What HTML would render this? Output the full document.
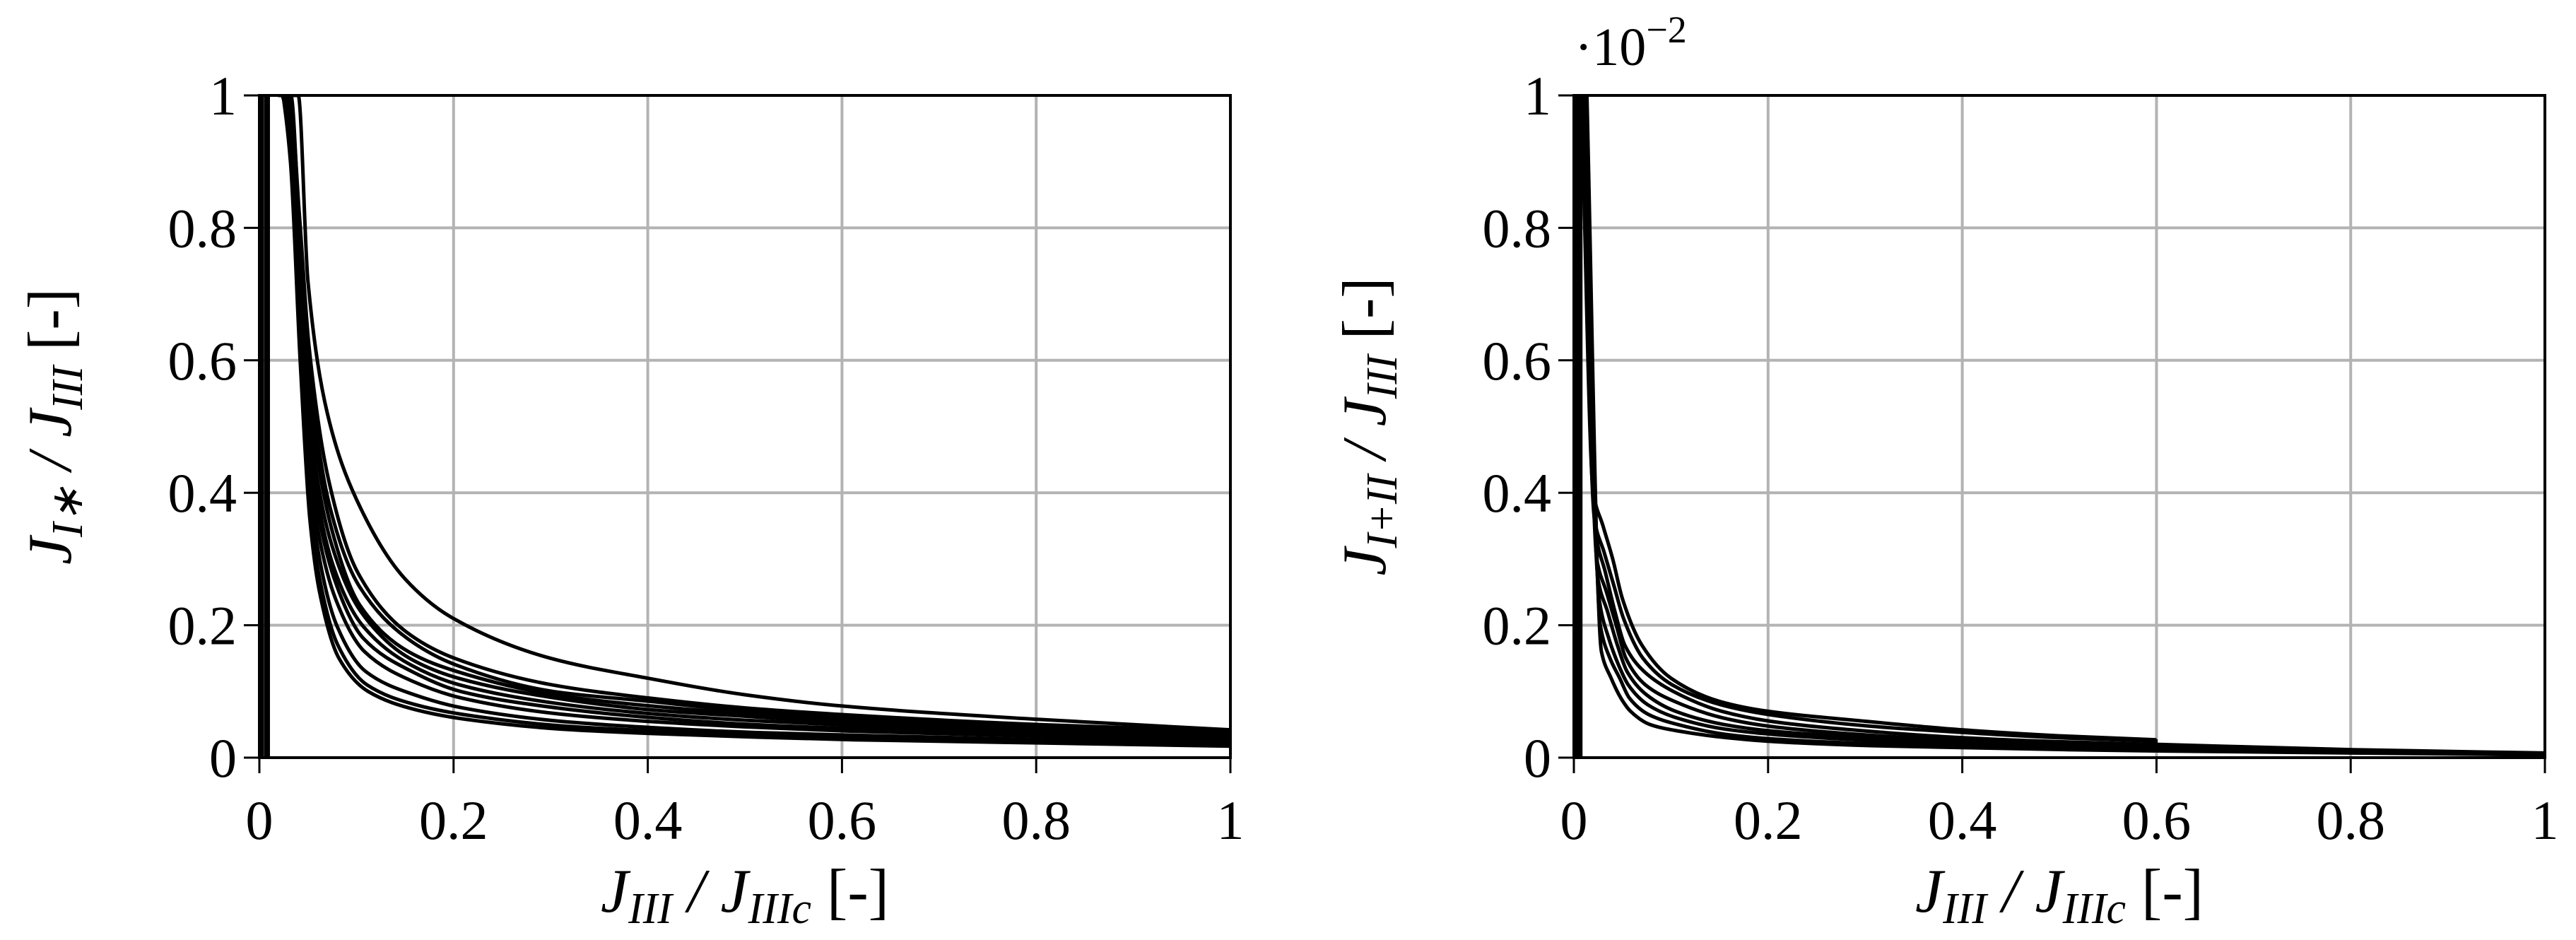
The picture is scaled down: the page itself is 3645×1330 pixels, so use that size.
<!DOCTYPE html>
<html><head><meta charset="utf-8"><style>
html,body{margin:0;padding:0;background:#fff}
svg{display:block}
text{font-family:"Liberation Serif",serif;fill:#000}
</style></head><body>
<svg id="fig" width="3645" height="1330" viewBox="0 0 3645 1330" xmlns="http://www.w3.org/2000/svg"></svg>
<script>
// shared x grid for curves
const xGrid=[0.02,0.03,0.04,0.05,0.07,0.1,0.15,0.2,0.3,0.4,0.5,0.6,0.8,1.0];
const xTicks=[0,0.2,0.4,0.6,0.8,1];
const xTickLabels=["0","0.2","0.4","0.6","0.8","1"];
const yTicks=[0,0.2,0.4,0.6,0.8,1];
const yTickLabels=["0","0.2","0.4","0.6","0.8","1"];
// left chart series (J_I* / J_III)
const leftSeries=[
 [1.0,1.0,1.0,0.72,0.52,0.39,0.27,0.21,0.15,0.12,0.095,0.078,0.058,0.042],
 [1.0,1.0,0.82,0.62,0.42,0.28,0.19,0.15,0.11,0.09,0.075,0.065,0.05,0.04],
 [1.0,1.0,0.76,0.57,0.38,0.26,0.18,0.14,0.1,0.085,0.07,0.06,0.048,0.038],
 [1.0,0.95,0.7,0.52,0.35,0.23,0.16,0.13,0.095,0.078,0.066,0.057,0.045,0.036],
 [1.0,0.9,0.65,0.47,0.32,0.22,0.15,0.12,0.09,0.072,0.062,0.053,0.042,0.034],
 [1.0,0.85,0.6,0.43,0.29,0.2,0.14,0.11,0.082,0.066,0.056,0.049,0.039,0.032],
 [1.0,0.8,0.55,0.4,0.27,0.18,0.13,0.1,0.075,0.06,0.05,0.044,0.035,0.029],
 [1.0,0.75,0.5,0.36,0.24,0.16,0.115,0.09,0.066,0.054,0.046,0.04,0.032,0.026],
 [1.0,0.7,0.45,0.32,0.2,0.13,0.095,0.075,0.055,0.045,0.038,0.034,0.027,0.022],
 [1.0,0.65,0.4,0.28,0.17,0.11,0.08,0.065,0.048,0.04,0.034,0.03,0.024,0.019],
 [0.9,0.6,0.36,0.25,0.15,0.1,0.072,0.058,0.043,0.036,0.031,0.027,0.022,0.017]
];
// right chart series (J_I+II / J_III, ×1e-2)
const rightSeries=[
 [0.4,0.35,0.3,0.24,0.17,0.12,0.085,0.07,0.055,0.042,0.033,0.027,null,null],
 [0.36,0.31,0.26,0.21,0.15,0.11,0.08,0.065,0.048,0.038,0.03,0.025,null,null],
 [0.34,0.28,0.22,0.17,0.13,0.1,0.07,0.055,0.04,0.03,0.024,0.02,0.012,0.007],
 [0.3,0.25,0.2,0.15,0.11,0.085,0.06,0.047,0.034,0.026,0.021,0.017,0.011,0.006],
 [0.27,0.22,0.17,0.13,0.095,0.07,0.05,0.04,0.03,0.023,0.018,0.015,0.01,0.005],
 [0.24,0.18,0.14,0.11,0.08,0.06,0.043,0.035,0.026,0.02,0.016,0.013,0.009,0.005],
 [0.2,0.15,0.12,0.09,0.065,0.05,0.035,0.028,0.021,0.017,0.014,0.012,0.008,0.004],
 [0.16,0.12,0.09,0.07,0.05,0.04,0.03,0.024,0.018,0.015,0.012,0.01,0.007,0.004]
];
const NS="http://www.w3.org/2000/svg";
const svg=document.getElementById('fig');
function el(tag,attrs,parent){const e=document.createElementNS(NS,tag);for(const k in attrs)e.setAttribute(k,attrs[k]);(parent||svg).appendChild(e);return e;}
// monotone cubic (Fritsch-Carlson) path
function monotone(pts){
  const n=pts.length, dx=[], m=[], t=[];
  for(let i=0;i<n-1;i++){dx[i]=pts[i+1][0]-pts[i][0];m[i]=(pts[i+1][1]-pts[i][1])/dx[i];}
  t[0]=m[0];t[n-1]=m[n-2];
  for(let i=1;i<n-1;i++){t[i]=(m[i-1]*m[i]<=0)?0:(3*(dx[i-1]+dx[i]))/((2*dx[i]+dx[i-1])/m[i-1]+(dx[i]+2*dx[i-1])/m[i]);}
  let d=`M${pts[0][0]},${pts[0][1]}`;
  for(let i=0;i<n-1;i++){
    const h=dx[i]/3;
    d+=` C${pts[i][0]+h},${pts[i][1]+t[i]*h} ${pts[i+1][0]-h},${pts[i+1][1]-t[i+1]*h} ${pts[i+1][0]},${pts[i+1][1]}`;
  }
  return d;
}
function panel(L,R,T,B,series,name,spikeX,startX,ytitleX,ytitleParts){
  const g=el('g',{});
  
  
  const sx=v=>L+v*(R-L), sy=v=>B-v*(B-T);
  xTicks.forEach((t,i)=>{
    const gl=el('line',{x1:sx(t),x2:sx(t),y1:T,y2:B,stroke:'#b3b3b3','stroke-width':4},g);
    
    el('line',{x1:sx(t),x2:sx(t),y1:B,y2:B+22,stroke:'#000','stroke-width':3},g);
    const tx=el('text',{x:sx(t),y:B+115,'font-size':78,'text-anchor':'middle'},g);
    tx.textContent=xTickLabels[i];
    
  });
  yTicks.forEach((t,i)=>{
    const gl=el('line',{x1:L,x2:R,y1:sy(t),y2:sy(t),stroke:'#b3b3b3','stroke-width':4},g);
    
    el('line',{x1:L-22,x2:L,y1:sy(t),y2:sy(t),stroke:'#000','stroke-width':3},g);
    const tx=el('text',{x:L-32,y:sy(t)+27,'font-size':78,'text-anchor':'end'},g);
    tx.textContent=yTickLabels[i];
    
  });
  const clip=el('clipPath',{id:'c'+name},g);
  el('rect',{x:L,y:T,width:R-L,height:B-T},clip);
  const cg=el('g',{'clip-path':'url(#c'+name+')'},g);
  const sp=el('path',{d:`M${sx(spikeX[0])},${sy(0)} L${sx(spikeX[0])},${sy(1.05)} L${sx(spikeX[1])},${sy(1.05)} L${sx(spikeX[1])},${sy(0)}`,stroke:'#000','stroke-width':8,fill:'none'},cg);
  
  series.forEach((s,k)=>{
    const pts=[[sx(startX+k*0.0008),sy(1.05)]];
    s.forEach((v,i)=>{if(v!==null)pts.push([sx(xGrid[i]+k*0.0012),sy(v)]);});
    const p=el('path',{d:monotone(pts),stroke:'#000','stroke-width':5,fill:'none','stroke-linejoin':'round'},cg);
    
  });
  const fr=el('rect',{x:L,y:T,width:R-L,height:B-T,fill:'none',stroke:'#000','stroke-width':4},g);
  
  const xt=el('text',{x:(L+R)/2,y:1290,'font-size':88,'text-anchor':'middle','font-style':'italic'},g);
  xt.innerHTML='J<tspan font-size="62" dy="16">III</tspan><tspan dy="-16"> / J</tspan><tspan font-size="62" dy="16">IIIc</tspan><tspan dy="-16" font-style="normal"> [-]</tspan>';
  
  const yt=el('text',{x:0,y:0,'font-size':88,'text-anchor':'middle','font-style':'italic',transform:`translate(${ytitleX},${(T+B)/2}) rotate(-90)`},g);
  yt.innerHTML='J<tspan font-size="62" dy="16">'+ytitleParts+'</tspan><tspan dy="-16"> / J</tspan><tspan font-size="62" dy="16">III</tspan><tspan dy="-16" font-style="normal"> [-]</tspan>';
  
}
panel(367,1741,135,1072,leftSeries,'left-chart',[0.002,0.008],0.012,100,'I∗');
panel(2227,3601,135,1072,rightSeries,'right-chart',[0.002,0.006],0.007,1960,'I+II');
const ex=el('text',{x:2228,y:92,'font-size':76});
ex.innerHTML='·10<tspan font-size="54" dy="-32">−2</tspan>';


</script>
</body></html>
